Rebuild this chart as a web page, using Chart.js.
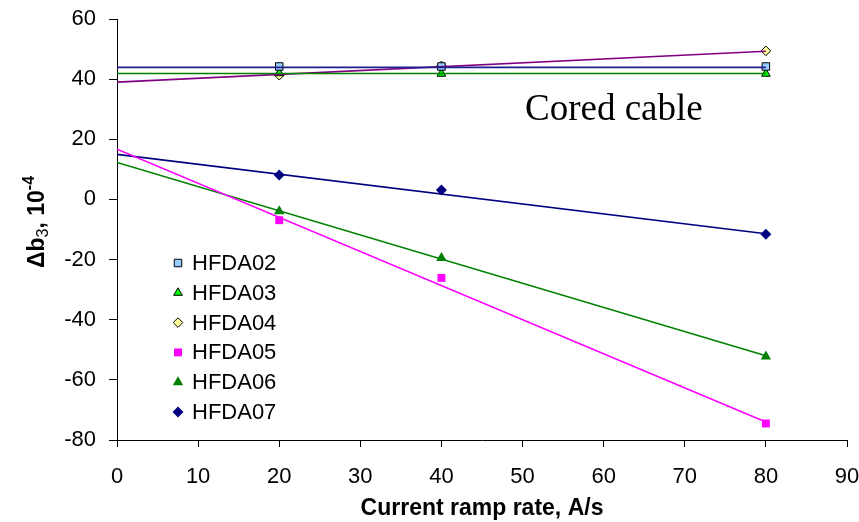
<!DOCTYPE html>
<html><head><meta charset="utf-8">
<script src="https://cdn.jsdelivr.net/npm/chart.js@4/dist/chart.umd.min.js"></script>
<style>html,body{margin:0;padding:0;background:#fff}#wrap{width:859px;height:522px;position:relative}</style>
</head><body><div id="wrap"><canvas id="c"></canvas></div>
<script>
// ---- data ----
const rampRates = [20, 40, 80];
const seriesNames = ['HFDA02', 'HFDA03', 'HFDA04', 'HFDA05', 'HFDA06', 'HFDA07'];
const hfda02 = [44.2, 44.2, 44.2];
const hfda03 = [42, 41.8, 41.8];
const hfda04 = [41.3, 44.4, 49.4];
const hfda05 = [-6.9, -26.1, -74.5];
const hfda06 = [-3.9, -19.5, -52.2];
const hfda07 = [8.1, 3.1, -11.6];
// linear trend lines: value at x = 0 and x = 80
const fitX = [0, 80];
const fit02 = [43.9, 43.9];
const fit03 = [41.9, 41.9];
const fit04 = [39.0, 49.3];
const fit05 = [16.7, -74.0];
const fit06 = [12.3, -52.0];
const fit07 = [15.0, -11.4];
const xTickValues = [0, 10, 20, 30, 40, 50, 60, 70, 80, 90];
const yTickValues = [-80, -60, -40, -20, 0, 20, 40, 60];
const annotationText = 'Cored cable';
const xTitle = 'Current ramp rate, A/s';

const FONT = "'Liberation Sans', Arial, sans-serif";
const pts = (ys) => rampRates.map((x, i) => ({x, y: ys[i]}));
const line = (ys) => fitX.map((x, i) => ({x, y: ys[i]}));

const markerStyles = [
  {pointStyle: 'rect', radius: 5.3, bg: '#99CCFF', bd: '#000000', bw: 1},
  {pointStyle: 'triangle', radius: 5, bg: '#00FF00', bd: '#000000', bw: 1},
  {pointStyle: 'rectRot', radius: 4.8, bg: '#FFFF99', bd: '#000000', bw: 1},
  {pointStyle: 'rect', radius: 5.6, bg: '#FF00FF', bd: '#FF00FF', bw: 0},
  {pointStyle: 'triangle', radius: 6, bg: '#008000', bd: '#008000', bw: 0},
  {pointStyle: 'rectRot', radius: 5.5, bg: '#000080', bd: '#000080', bw: 0}
];
const seriesData = [hfda02, hfda03, hfda04, hfda05, hfda06, hfda07];
const fitData = [fit02, fit03, fit04, fit05, fit06, fit07];
const fitColors = ['#1F1F8F', '#008000', '#800080', '#FF00FF', '#008000', '#000080'];

const datasets = [];
fitData.forEach((f, i) => datasets.push({
  label: seriesNames[i] + ' fit', data: line(f), showLine: true,
  borderColor: fitColors[i], borderWidth: 1.6, pointRadius: 0, fill: false, order: 1
}));
seriesData.forEach((s, i) => {
  const m = markerStyles[i];
  datasets.push({
    label: seriesNames[i], data: pts(s), showLine: false,
    pointStyle: m.pointStyle, pointRadius: m.radius, pointHoverRadius: m.radius,
    backgroundColor: m.bg, borderColor: m.bd, pointBorderWidth: m.bw, borderWidth: m.bw, order: 2
  });
});

const legendPlugin = {
  id: 'inlineLegend',
  afterDraw(chart) {
    const ctx = chart.ctx;
    ctx.save();
    seriesNames.forEach((name, i) => {
      const m = markerStyles[i];
      const y = 263 + i * 29.8;
      ctx.fillStyle = m.bg; ctx.strokeStyle = m.bd; ctx.lineWidth = m.bw;
      Chart.helpers.drawPoint(ctx, {pointStyle: m.pointStyle, radius: m.radius, borderWidth: m.bw, rotation: 0}, 178, y);
      ctx.fillStyle = '#000';
      ctx.font = '22px ' + FONT;
      ctx.textAlign = 'left'; ctx.textBaseline = 'middle';
      ctx.fillText(name, 192, y + 1);
    });
    // annotation
    ctx.font = "37px 'Liberation Serif', 'Times New Roman', serif";
    ctx.textBaseline = 'alphabetic';
    ctx.fillText(annotationText, 525, 120);
    // y-axis title with sub/superscripts
    const parts = [
      {t: '\u0394b', f: 'bold 23px ' + FONT, dy: 0},
      {t: '3', f: '16px ' + FONT, dy: 4},
      {t: ', 10', f: 'bold 23px ' + FONT, dy: 0},
      {t: '-4', f: 'bold 16px ' + FONT, dy: -10}
    ];
    let W = 0;
    parts.forEach(p => { ctx.font = p.f; p.w = ctx.measureText(p.t).width; W += p.w; });
    ctx.translate(44, 222);
    ctx.rotate(-Math.PI / 2);
    let x = -W / 2;
    parts.forEach(p => { ctx.font = p.f; ctx.fillText(p.t, x, p.dy); x += p.w; });
    ctx.restore();
  }
};

const zeroPad = (s) => { s.paddingLeft = 0; s.paddingRight = 0; s.paddingTop = 0; s.paddingBottom = 0; };

new Chart(document.getElementById('c'), {
  type: 'scatter',
  data: {datasets},
  options: {
    responsive: true, maintainAspectRatio: false, animation: false,
    layout: {padding: {top: 19, right: 12, left: 0, bottom: 0}},
    plugins: {legend: {display: false}, tooltip: {enabled: false}},
    scales: {
      x: {
        type: 'linear', min: 0, max: 90,
        afterBuildTicks: (s) => { s.ticks = xTickValues.map(v => ({value: v})); },
        afterFit: (s) => { s.height = 82; zeroPad(s); },
        ticks: {font: {size: 22, family: FONT}, color: '#000', padding: 17, maxRotation: 0, autoSkip: false},
        grid: {drawOnChartArea: false, drawTicks: true, tickLength: 7, color: '#000'},
        border: {color: '#000', width: 1},
        title: {display: true, text: xTitle, color: '#000', font: {size: 23, weight: 'bold', family: FONT}, padding: {top: 0, bottom: 0}}
      },
      y: {
        type: 'linear', min: -80, max: 60,
        afterBuildTicks: (s) => { s.ticks = yTickValues.map(v => ({value: v})); },
        afterFit: (s) => { s.width = 117; zeroPad(s); },
        ticks: {font: {size: 22, family: FONT}, color: '#000', padding: 13, autoSkip: false},
        grid: {drawOnChartArea: false, drawTicks: true, tickLength: 8, color: '#000'},
        border: {color: '#000', width: 1}
      }
    }
  },
  plugins: [legendPlugin]
});
</script></body></html>
